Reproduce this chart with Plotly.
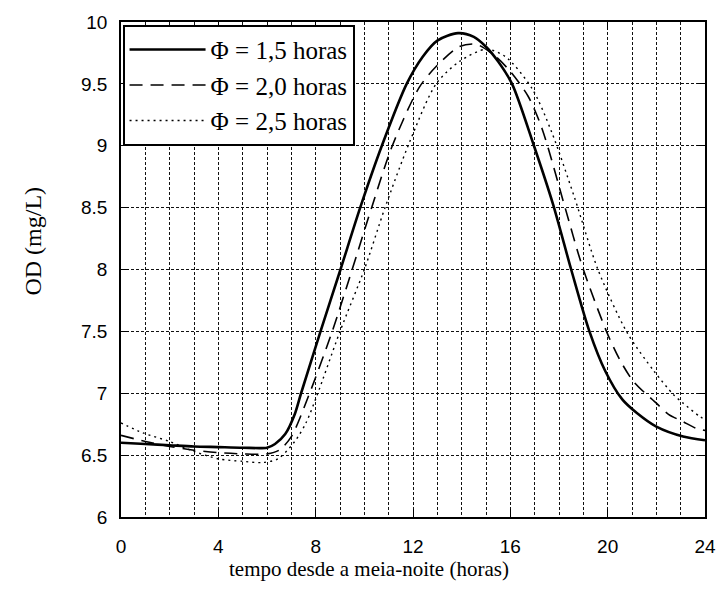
import plotly.graph_objects as go

# Phi = 1.5 h (solid)
x_15 = [0, 1, 2, 3, 4, 5, 6, 6.33, 6.75, 7.14, 7.4, 8.2, 9.02, 9.83, 10.72, 11.74, 12.4, 13.0, 13.85,
        14.5, 15.0, 15.5, 16.07, 16.97, 17.75, 18.5, 19.25, 19.9, 20.6, 21.2, 22.0, 23.1, 24]
y_15 = [6.60, 6.59, 6.58, 6.57, 6.565, 6.56, 6.56, 6.59, 6.67, 6.83, 7.0, 7.5, 8.0, 8.5, 9.0, 9.5, 9.72, 9.85, 9.91,
        9.88, 9.80, 9.68, 9.5, 9.0, 8.53, 8.0, 7.5, 7.18, 6.95, 6.84, 6.73, 6.65, 6.62]

# Phi = 2.0 h (dashed)
x_20 = [0, 1, 2, 3, 4, 5, 6, 6.5, 7.0, 7.75, 8.68, 9.5, 10.3, 11.15, 12.25, 12.95, 13.9, 14.6, 15.4, 16.0,
        16.73, 17.3, 18.25, 18.95, 19.95, 20.5, 21.08, 22.0, 22.5, 23.1, 23.6, 24]
y_20 = [6.66, 6.61, 6.57, 6.54, 6.52, 6.51, 6.51, 6.54, 6.65, 7.0, 7.5, 8.0, 8.5, 9.0, 9.47, 9.64, 9.8, 9.82, 9.72, 9.6,
        9.40, 9.14, 8.5, 8.03, 7.5, 7.27, 7.09, 6.92, 6.83, 6.77, 6.72, 6.70]

# Phi = 2.5 h (dotted)
x_25 = [0, 0.9, 2, 3, 4, 5, 5.8, 6.45, 7.14, 7.6, 8.05, 9.0, 10.0, 10.85, 11.86, 12.95, 13.9, 15.0, 15.8,
        16.9, 17.7, 18.64, 19.6, 20.8, 21.9, 22.7, 23.1, 23.8, 24]
y_25 = [6.76, 6.68, 6.61, 6.53, 6.47, 6.45, 6.44, 6.47, 6.61, 6.76, 6.98, 7.5, 8.0, 8.5, 9.03, 9.5, 9.68, 9.78, 9.72,
        9.46, 9.11, 8.58, 8.0, 7.49, 7.18, 6.99, 6.92, 6.81, 6.79]

names = ["Φ = 1,5 horas", "Φ = 2,0 horas", "Φ = 2,5 horas"]
x_title = "tempo desde a meia-noite (horas)"
y_title = "OD (mg/L)"

serif = "Liberation Serif, Times New Roman, serif"
sans = "Liberation Sans, Arial, sans-serif"
grid_dash = "3px,2px"
grid_col = "#111111"

fig = go.Figure()
fig.add_trace(go.Scatter(x=x_15, y=y_15, mode="lines", name=names[0],
                         line=dict(color="black", width=2.6, shape="spline", smoothing=0.8)))
fig.add_trace(go.Scatter(x=x_20, y=y_20, mode="lines", name=names[1],
                         line=dict(color="black", width=1.6, dash="13px,8px", shape="spline", smoothing=0.8)))
fig.add_trace(go.Scatter(x=x_25, y=y_25, mode="lines", name=names[2],
                         line=dict(color="black", width=1.4, dash="2px,4px", shape="spline", smoothing=0.8)))

fig.update_layout(
    width=728, height=600,
    margin=dict(l=121, r=16, t=15, b=83),
    paper_bgcolor="white", plot_bgcolor="white",
    font=dict(family=sans, color="black"),
    showlegend=True,
    legend=dict(x=0.003, y=0.994, xanchor="left", yanchor="top",
                bgcolor="white", bordercolor="black", borderwidth=1.8,
                font=dict(family=serif, size=25, color="black"),
                itemwidth=76),
    xaxis=dict(range=[0, 24], dtick=4, tick0=0, ticks="inside", ticklen=8, tickwidth=1.2,
               tickcolor="black", showline=True, linecolor="black", linewidth=1.5, mirror="ticks",
               showgrid=True, gridcolor=grid_col, griddash=grid_dash, gridwidth=1.1,
               minor=dict(dtick=1, showgrid=True, gridcolor=grid_col, griddash=grid_dash, gridwidth=1.1),
               tickfont=dict(family=sans, size=19, color="black"), ticklabelstandoff=11,
               zeroline=False),
    yaxis=dict(range=[6, 10], dtick=0.5, tick0=6, ticks="inside", ticklen=8, tickwidth=1.2,
               tickcolor="black", showline=True, linecolor="black", linewidth=1.5, mirror="ticks",
               showgrid=True, gridcolor=grid_col, griddash=grid_dash, gridwidth=1.1,
               tickfont=dict(family=sans, size=19, color="black"), ticklabelstandoff=8,
               zeroline=False),
    annotations=[
        dict(text=x_title, xref="paper", yref="paper", x=0.425, y=-0.105,
             xanchor="center", yanchor="middle", showarrow=False,
             font=dict(family=serif, size=21, color="black")),
        dict(text=y_title, xref="paper", yref="paper", x=-0.151, y=0.558, textangle=-90,
             xanchor="center", yanchor="middle", showarrow=False,
             font=dict(family=serif, size=24, color="black")),
    ],
)

fig.write_html("out.html")
